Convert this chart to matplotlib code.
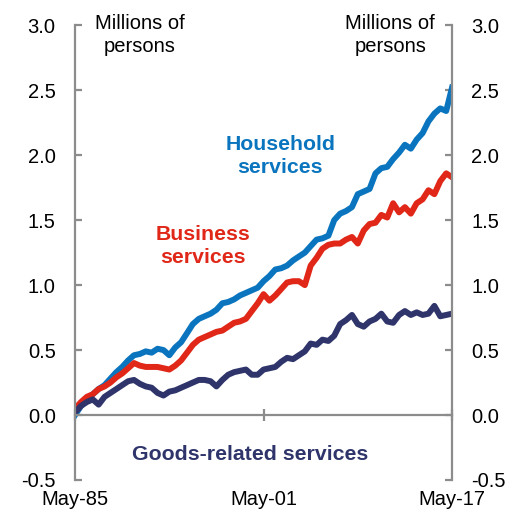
import numpy as np
import pandas as pd
import matplotlib.pyplot as plt
import matplotlib.dates as mdates

# half-yearly readings, May-85 to May-17 (millions of persons)
dates = pd.date_range('1985-05-01', '2017-05-01', freq='6MS')

household = [0.00, 0.07, 0.12, 0.16, 0.20, 0.23, 0.28, 0.33, 0.37, 0.42,
             0.46, 0.47, 0.49, 0.48, 0.51, 0.50, 0.46, 0.52, 0.56, 0.63,
             0.70, 0.74, 0.76, 0.78, 0.81, 0.86, 0.87, 0.89, 0.92, 0.94,
             0.96, 0.98, 1.03, 1.07, 1.12, 1.13, 1.15, 1.19, 1.22, 1.25,
             1.30, 1.35, 1.36, 1.38, 1.50, 1.55, 1.57, 1.60, 1.70, 1.72,
             1.74, 1.86, 1.90, 1.91, 1.97, 2.02, 2.08, 2.05, 2.12, 2.17,
             2.26, 2.32, 2.36, 2.34, 2.52]

business = [0.05, 0.10, 0.14, 0.16, 0.20, 0.22, 0.25, 0.29, 0.32, 0.36,
            0.40, 0.38, 0.37, 0.37, 0.37, 0.36, 0.35, 0.38, 0.42, 0.48,
            0.54, 0.58, 0.60, 0.62, 0.64, 0.65, 0.68, 0.71, 0.72, 0.74,
            0.80, 0.86, 0.93, 0.88, 0.92, 0.97, 1.02, 1.03, 1.03, 1.00,
            1.15, 1.21, 1.28, 1.31, 1.32, 1.32, 1.35, 1.37, 1.32, 1.42,
            1.47, 1.48, 1.54, 1.52, 1.63, 1.56, 1.60, 1.55, 1.63, 1.66,
            1.73, 1.70, 1.80, 1.86, 1.83]

goods = [0.02, 0.07, 0.10, 0.12, 0.08, 0.14, 0.17, 0.20, 0.23, 0.26,
         0.27, 0.24, 0.22, 0.21, 0.17, 0.15, 0.18, 0.19, 0.21, 0.23,
         0.25, 0.27, 0.27, 0.26, 0.22, 0.27, 0.31, 0.33, 0.34, 0.35,
         0.31, 0.31, 0.35, 0.36, 0.37, 0.41, 0.44, 0.43, 0.46, 0.49,
         0.55, 0.54, 0.58, 0.57, 0.61, 0.70, 0.73, 0.77, 0.70, 0.68,
         0.72, 0.74, 0.78, 0.72, 0.71, 0.77, 0.80, 0.77, 0.79, 0.77,
         0.78, 0.84, 0.76, 0.77, 0.78]

yticks = [-0.5, 0.0, 0.5, 1.0, 1.5, 2.0, 2.5, 3.0]
xticks = pd.to_datetime(['1985-05-01', '2001-05-01', '2017-05-01'])

BLUE = '#0A75BE'
RED = '#E02718'
NAVY = '#2F356B'
GREY = '#8C8C8C'

plt.rcParams['font.family'] = ['Liberation Sans', 'DejaVu Sans']

fig = plt.figure(figsize=(5.25, 5.15), dpi=100)
ax = fig.add_axes([0.143, 0.068, 0.718, 0.883])

ax.plot(dates, household, color=BLUE, lw=4.3, solid_joinstyle='round')
ax.plot(dates, business, color=RED, lw=4.3, solid_joinstyle='round')
ax.plot(dates, goods, color=NAVY, lw=4.3, solid_joinstyle='round')

ax.set_ylim(-0.5, 3.0)
ax.set_xlim(dates[0], dates[-1])
ax.set_yticks(yticks)
ax.set_yticklabels([f'{v:.1f}' for v in yticks])
ax.set_xticks(xticks)
ax.xaxis.set_major_formatter(mdates.DateFormatter('%b-%y'))

ax.spines['top'].set_visible(False)
ax.spines['bottom'].set_position(('data', 0))
for s in ['left', 'right', 'bottom']:
    ax.spines[s].set_color(GREY)
    ax.spines[s].set_linewidth(1.6)

ax.tick_params(axis='y', which='both', direction='in', length=5, width=1.6,
               color=GREY, left=True, right=True, labelleft=True,
               labelright=True, labelsize=14.5, pad=14)
ax.tick_params(axis='x', direction='inout', length=8, width=1.6, color=GREY,
               labelsize=14.5, pad=50)

ax.text(0.172, 1.025, 'Millions of\npersons', transform=ax.transAxes,
        ha='center', va='top', fontsize=14.5, linespacing=1.25)
ax.text(0.836, 1.025, 'Millions of\npersons', transform=ax.transAxes,
        ha='center', va='top', fontsize=14.5, linespacing=1.25)

ax.text(0.544, 0.712, 'Household\nservices', transform=ax.transAxes,
        ha='center', va='center', fontsize=15.3, fontweight='bold',
        color=BLUE, linespacing=1.25)
ax.text(0.34, 0.514, 'Business\nservices', transform=ax.transAxes,
        ha='center', va='center', fontsize=15.3, fontweight='bold',
        color=RED, linespacing=1.25)
ax.text(0.465, 0.055, 'Goods-related services', transform=ax.transAxes,
        ha='center', va='center', fontsize=15.3, fontweight='bold',
        color=NAVY)

fig.savefig('out.png', dpi=100)
